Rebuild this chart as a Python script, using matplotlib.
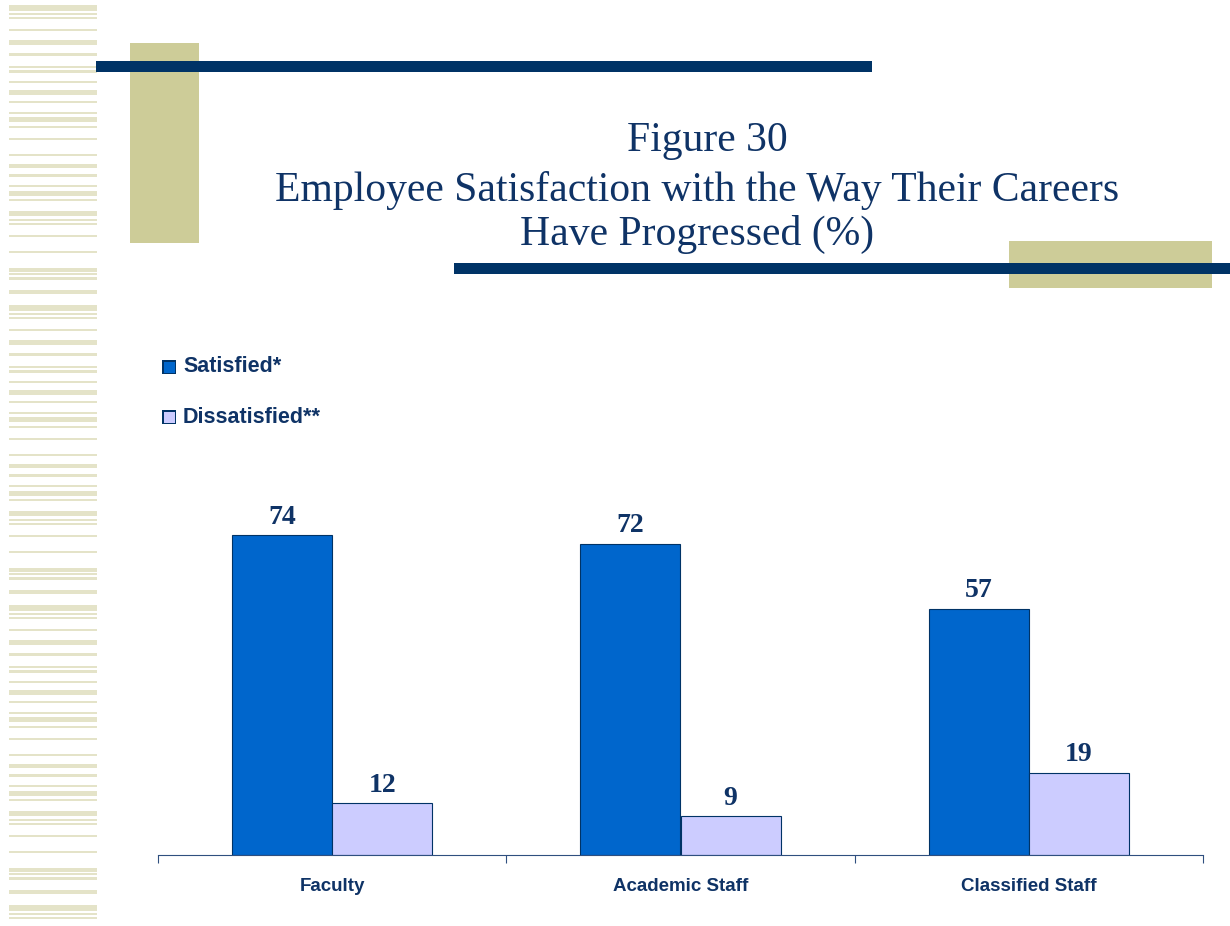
import numpy as np
import matplotlib.pyplot as plt
from matplotlib.patches import Rectangle

categories = ["Faculty", "Academic Staff", "Classified Staff"]
satisfied = [74, 72, 57]
dissatisfied = [12, 9, 19]
series_names = ["Satisfied*", "Dissatisfied**"]

title_lines = ["Figure 30",
               "Employee Satisfaction with the Way Their Careers",
               "Have Progressed (%)"]

NAVY = "#003366"
KHAKI = "#CDCC98"
STRIPE = "#E4E3C8"
TEXT = "#0F3366"
W, H = 1230, 926

fig = plt.figure(figsize=(W / 100, H / 100), dpi=100)


def px_rect(x0, y0, x1, y1, color, z=1):
    # rectangle given in pixel coords measured from the top-left
    fig.patches.append(Rectangle((x0 / W, 1 - y1 / H), (x1 - x0) / W, (y1 - y0) / H,
                                 transform=fig.transFigure, color=color, lw=0, zorder=z))


# decorative stripes on the left edge
stripe_rows = [(5, 11), (13, 15), (17, 19), (29, 31), (40, 45), (53, 56), (66, 68),
               (70, 73), (81, 83), (90, 95), (101, 103), (112, 114), (117, 122),
               (126, 128), (138, 140), (154, 156), (164, 168), (174, 177), (185, 187),
               (191, 196), (199, 201), (211, 216), (219, 221), (223, 225), (235, 237),
               (251, 253), (268, 272), (273, 275), (277, 280), (290, 294)]
for k in range(4):
    for a, b in stripe_rows:
        y0, y1 = a + k * 300, b + k * 300
        if y0 < H - 5:
            px_rect(9, y0, 97, min(y1, H - 5), STRIPE)

# header decoration
px_rect(130, 43, 199, 243, KHAKI, 1)
px_rect(96, 61, 872, 72, NAVY, 2)
px_rect(1009, 241, 1212, 288, KHAKI, 1)
px_rect(454, 263, 1230, 274, NAVY, 2)

for txt, xc, yc in zip(title_lines, [707, 697, 697], [141, 191, 234]):
    fig.text(xc / W, 1 - yc / H, txt, ha="center", va="center",
             fontsize=30, family="Liberation Serif", color=TEXT)

# chart
ax = fig.add_axes([158 / W, 71 / H, 1045 / W, 345.6 / H])
x = np.arange(len(categories))
bw = 100 / 348
b1 = ax.bar(x - bw / 2, satisfied, bw, color="#0066CC", edgecolor=NAVY, lw=0.8,
            label=series_names[0])
b2 = ax.bar(x + bw / 2, dissatisfied, bw, color="#CCCCFF", edgecolor=NAVY, lw=0.8,
            label=series_names[1])
for bars in (b1, b2):
    for r in bars:
        ax.annotate(f"{r.get_height():.0f}", (r.get_x() + r.get_width() / 2, r.get_height()),
                    xytext=(0, 4), textcoords="offset points", ha="center", va="bottom",
                    fontsize=20, fontweight="bold", family="Liberation Serif", color=TEXT)

ax.set_xlim(-0.5, 2.5)
ax.set_ylim(0, 80)
ax.set_yticks([])
for s in ("top", "right", "left"):
    ax.spines[s].set_visible(False)
ax.spines["bottom"].set_color("#2F4F7F")
ax.set_xticks([-0.5, 0.5, 1.5, 2.5])
ax.set_xticklabels([])
ax.tick_params(axis="x", length=6, color="#2F4F7F")
for i, c in enumerate(categories):
    ax.text(i, -0.09, c, transform=ax.get_xaxis_transform(), ha="center", va="center",
            fontsize=13.5, fontweight="bold", family="Liberation Sans", color=TEXT)

# legend drawn as squares + text
for j, (name, col) in enumerate(zip(series_names, ["#0066CC", "#CCCCFF"])):
    yc = 367 + j * 50
    px_rect(162, yc - 7, 176, yc + 7, NAVY, 3)
    px_rect(163.5, yc - 5.5, 174.5, yc + 5.5, col, 4)
    fig.text(183 / W, 1 - yc / H, name, ha="left", va="center", fontsize=15.5,
             fontweight="bold", family="Liberation Sans", color=TEXT)

fig.savefig("out.png", dpi=100)
